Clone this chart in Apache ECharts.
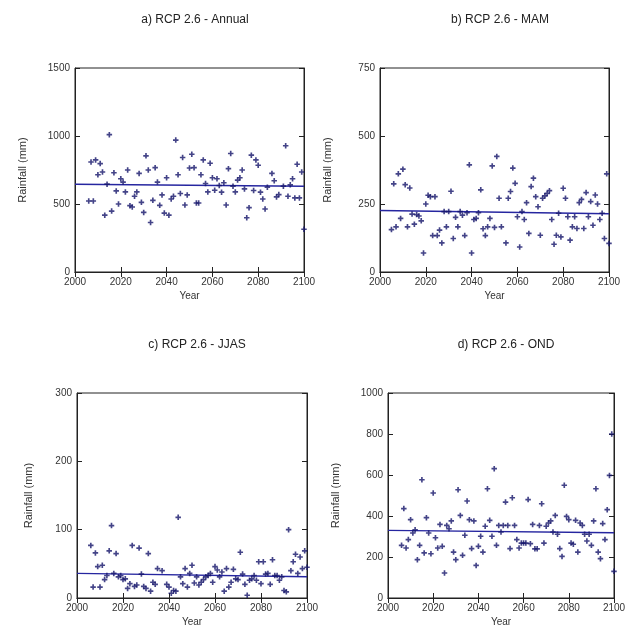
<!DOCTYPE html>
<html><head><meta charset="utf-8">
<script src="https://cdn.jsdelivr.net/npm/echarts@6/dist/echarts.min.js"></script>
<style>html,body{margin:0;padding:0;background:#fff}#c{width:640px;height:628px}</style>
</head><body><div id="c"></div>
<script>
// ---- data ----
const panelTitles = ['a) RCP 2.6 - Annual', 'b) RCP 2.6 - MAM', 'c) RCP 2.6 - JJAS', 'd) RCP 2.6 - OND'];
const yAxisMax = [1500, 750, 300, 1000];
const yAxisStep = [500, 250, 100, 200];
const trendYears = [2000, 2100];

const annualYears = [2006,2007,2008,2009,2010,2011,2012,2013,2014,2015,2016,2017,2018,2019,2020,2021,2022,2023,2024,2025,2026,2027,2028,2029,2030,2031,2032,2033,2034,2035,2036,2037,2038,2039,2040,2041,2042,2043,2044,2045,2046,2047,2048,2049,2050,
  2051,2052,2053,2054,2055,2056,2057,2058,2059,2060,2061,2062,2063,2064,2065,2066,2067,2068,2069,2070,2071,2072,2073,2074,2075,2076,2077,2078,2079,2080,2081,2082,2083,2084,
  2086,2087,2088,2089,2091,2092,2093,2094,2095,2096,2097,2098,2099,2100];
const annualMm = [522,809,522,824,715,797,735,418,646,1010,448,730,596,500,686,661,589,750,488,478,557,589,725,512,438,854,750,364,527,767,661,490,567,433,693,418,537,557,970,715,577,842,493,567,765,
  866,767,507,507,715,824,651,589,800,693,601,686,636,587,656,493,760,871,631,589,676,693,750,611,399,473,859,599,824,785,587,537,463,624,
  725,671,552,569,631,928,557,641,686,545,792,545,735,314];
const annualTrend = [645, 630];

const mamYears = [2005,2006,2007,2008,2009,2010,2011,2012,2013,2014,2015,2016,2017,2018,2019,2020,2021,2022,2023,2024,2025,2026,2027,2028,2029,2030,2031,2032,2033,2034,2035,2036,2037,2038,2039,2040,2041,2042,2043,2044,2045,2046,2047,
  2048,2049,2050,2051,2052,2053,2055,2056,2057,2058,2059,2060,2061,2062,2063,2064,2065,2066,2067,2068,2069,2070,2071,2072,2073,2074,2075,2076,2077,2078,2079,2080,2081,2082,2083,2084,2085,2086,2087,2088,2089,2090,2091,2092,2093,2094,2095,2096,2097,2098,2099,2100];
const mamMm = [156,324,166,361,197,378,321,166,309,213,176,211,206,188,70,250,282,277,134,277,134,154,107,222,166,222,297,123,201,166,222,209,134,218,394,70,193,197,218,302,159,134,166,
  197,390,164,425,271,166,107,271,296,382,326,203,92,222,193,255,142,314,345,277,240,135,271,280,289,299,193,102,135,216,129,308,271,203,117,166,203,160,255,267,160,292,203,259,172,283,250,193,216,123,361,105];
const mamTrend = [226, 214];

const jjasYears = [2006,2007,2008,2009,2010,2011,2012,2013,2014,2015,2016,2017,2018,2019,2020,2021,2022,2023,2024,2025,2026,2027,2028,2029,2030,2031,2032,2033,2034,2035,2037,2039,2040,2041,2042,2043,2044,2045,2046,2047,2048,
  2049,2050,2051,2052,2053,2054,2055,2056,2057,2058,2059,2060,2061,2062,2063,2064,2065,2066,2067,2068,2069,2070,2071,2072,2073,2074,2075,2076,2077,2078,2079,2080,2081,2082,2083,2084,2085,2086,2087,2088,2089,2090,2091,2092,2093,2094,2095,2096,2097,2098,2099,2100];
const jjasMm = [77,16,66,46,16,48,27,33,69,106,36,65,31,33,27,28,14,21,77,17,19,73,35,17,14,65,10,23,20,43,40,20,16,7,11,10,118,31,21,43,16,
  36,48,22,31,19,23,27,31,33,36,23,46,41,31,38,10,43,16,23,42,28,27,67,35,20,4,26,28,33,26,53,21,53,35,36,20,56,33,33,26,31,11,9,100,40,53,64,36,60,43,69,45];
const jjasTrend = [36, 31];

const ondYears = [2006,2007,2008,2009,2010,2011,2012,2013,2014,2015,2016,2017,2018,2019,2020,2021,2022,2023,2024,2025,2026,2027,2028,2029,2030,2031,2032,2033,2034,2035,2036,2037,2038,2039,2040,2041,2042,2043,2044,2045,2046,2047,
  2048,2049,2050,2051,2052,2053,2054,2055,2056,2057,2058,2059,2060,2061,2062,2063,2064,2065,2066,2067,2068,2069,2070,2071,2072,2073,2074,2075,2076,2077,2078,2079,2080,2081,2082,2083,2084,2085,2086,2087,2088,2089,2090,2091,2092,2093,2094,2095,2096,2097,2098,2099,2100];
const ondMm = [257,436,244,285,382,317,333,187,257,577,220,392,317,216,512,294,244,359,252,122,354,338,376,224,187,528,403,208,306,473,382,241,376,159,252,301,224,350,533,379,301,631,
  257,354,322,354,468,354,241,489,354,285,244,268,268,268,480,265,359,240,240,354,460,268,350,366,376,322,403,311,241,203,550,398,382,268,262,379,224,366,354,311,278,311,257,376,533,224,192,363,285,431,598,800,130];
const ondTrend = [330, 318];

// ---- layout / style ----
const grids = [
  {left: 75, top: 68, width: 229, height: 204},
  {left: 380, top: 68, width: 229, height: 204},
  {left: 77, top: 393, width: 230, height: 205},
  {left: 388, top: 393, width: 226, height: 205}
];
const titlePos = [[190, 9], [495, 9], [192, 334], [501, 334]];
const nameGaps = [47, 47, 43, 47];
const FONT = 'Liberation Sans, Arial, sans-serif';
const AX = '#222';
const PT = '#15156a';
const LN = '#2626a0';
const plus = 'path://M0,2.1H2.1V0H3.9V2.1H6V3.9H3.9V6H2.1V3.9H0Z';

const sets = [
  [annualYears, annualMm, annualTrend],
  [mamYears, mamMm, mamTrend],
  [jjasYears, jjasMm, jjasTrend],
  [ondYears, ondMm, ondTrend]
];

const plain = v => String(v);
const xAxis = [], yAxis = [], series = [], title = [];
grids.forEach((g, i) => {
  g.show = true; g.borderColor = AX; g.borderWidth = 1; g.backgroundColor = '#fff';
  title.push({text: panelTitles[i], left: titlePos[i][0], top: titlePos[i][1], textAlign: 'center',
    textStyle: {fontFamily: FONT, fontSize: 12, fontWeight: 'normal', color: '#222'}});
  const xBase = {gridIndex: i, type: 'value', min: 2000, max: 2100, interval: 20,
    axisLine: {show: true, lineStyle: {color: AX, width: 1}},
    axisTick: {show: true, inside: true, length: 5, lineStyle: {color: AX}},
    splitLine: {show: false}};
  xAxis.push(Object.assign({}, xBase, {position: 'bottom', name: 'Year', nameLocation: 'middle', nameGap: 19,
    nameTextStyle: {fontFamily: FONT, fontSize: 10, color: '#333'},
    axisLabel: {show: true, margin: 5, fontFamily: FONT, fontSize: 10, color: '#333', formatter: plain}}));
  xAxis.push(Object.assign({}, xBase, {position: 'top', axisLabel: {show: false}}));
  const yBase = {gridIndex: i, type: 'value', min: 0, max: yAxisMax[i], interval: yAxisStep[i],
    axisLine: {show: true, lineStyle: {color: AX, width: 1}},
    axisTick: {show: true, inside: true, length: 5, lineStyle: {color: AX}},
    splitLine: {show: false}};
  yAxis.push(Object.assign({}, yBase, {position: 'left', name: 'Rainfall (mm)', nameLocation: 'middle', nameGap: nameGaps[i],
    nameRotate: 90, nameTextStyle: {fontFamily: FONT, fontSize: 11, color: '#333'},
    axisLabel: {show: true, margin: 5, fontFamily: FONT, fontSize: 10, color: '#333', formatter: plain}}));
  yAxis.push(Object.assign({}, yBase, {position: 'right', axisLabel: {show: false}}));
  const [yrs, vals, tr] = sets[i];
  series.push({type: 'scatter', xAxisIndex: 2 * i, yAxisIndex: 2 * i, symbol: plus, symbolSize: 5.5,
    itemStyle: {color: PT}, data: yrs.map((y, k) => [y, vals[k]]), silent: true, z: 3});
  series.push({type: 'line', xAxisIndex: 2 * i, yAxisIndex: 2 * i, showSymbol: false, silent: true,
    lineStyle: {color: LN, width: 1.4}, data: trendYears.map((y, k) => [y, tr[k]]), z: 2});
});

const chart = echarts.init(document.getElementById('c'), null, {renderer: 'canvas'});
chart.setOption({backgroundColor: '#fff', animation: false, title, grid: grids, xAxis, yAxis, series});
</script></body></html>
